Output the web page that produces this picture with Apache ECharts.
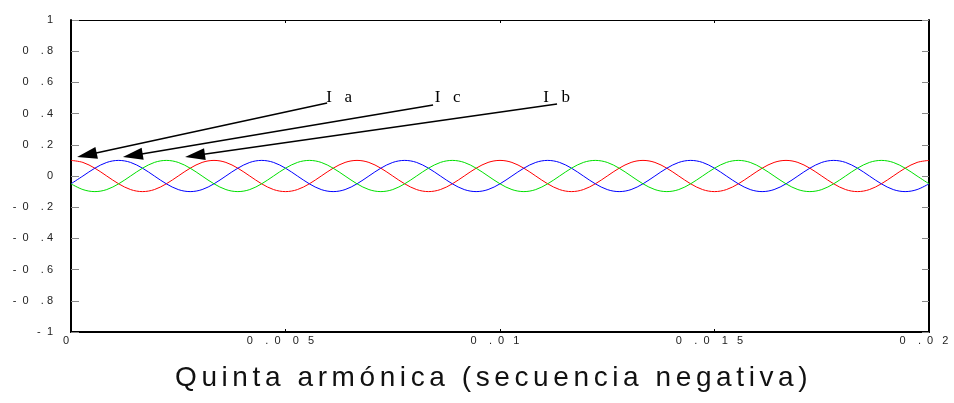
<!DOCTYPE html>
<html>
<head>
<meta charset="utf-8">
<script src="https://cdn.jsdelivr.net/npm/echarts@6/dist/echarts.min.js"></script>
<style>
html,body{margin:0;padding:0;background:#fff;}
#chart{width:954px;height:403px;}
</style>
</head>
<body>
<div id="chart"></div>
<script>
// ---- data ----
const times = [0,0.000278,0.000556,0.000833,0.001111,0.001389,0.001667,0.001944,0.002222,0.0025,0.002778,0.003056,
  0.003333,0.003611,0.003889,0.004167,0.004444,0.004722,0.005,0.005278,0.005556,0.005833,0.006111,0.006389,
  0.006667,0.006944,0.007222,0.0075,0.007778,0.008056,0.008333,0.008611,0.008889,0.009167,0.009444,0.009722,
  0.01,0.010278,0.010556,0.010833,0.011111,0.011389,0.011667,0.011944,0.012222,0.0125,0.012778,0.013056,
  0.013333,0.013611,0.013889,0.014167,0.014444,0.014722,0.015,0.015278,0.015556,0.015833,0.016111,0.016389,
  0.016667,0.016944,0.017222,0.0175,0.017778,0.018056,0.018333,0.018611,0.018889,0.019167,0.019444,0.019722,0.02];
const ia = [0.1,0.087,0.05,0,-0.05,-0.087,-0.1,-0.087,-0.05,0,0.05,0.087,
  0.1,0.087,0.05,0,-0.05,-0.087,-0.1,-0.087,-0.05,0,0.05,0.087,
  0.1,0.087,0.05,0,-0.05,-0.087,-0.1,-0.087,-0.05,0,0.05,0.087,
  0.1,0.087,0.05,0,-0.05,-0.087,-0.1,-0.087,-0.05,0,0.05,0.087,
  0.1,0.087,0.05,0,-0.05,-0.087,-0.1,-0.087,-0.05,0,0.05,0.087,
  0.1,0.087,0.05,0,-0.05,-0.087,-0.1,-0.087,-0.05,0,0.05,0.087,0.1];
const ic = [-0.05,0,0.05,0.087,0.1,0.087,0.05,0,-0.05,-0.087,-0.1,-0.087,
  -0.05,0,0.05,0.087,0.1,0.087,0.05,0,-0.05,-0.087,-0.1,-0.087,
  -0.05,0,0.05,0.087,0.1,0.087,0.05,0,-0.05,-0.087,-0.1,-0.087,
  -0.05,0,0.05,0.087,0.1,0.087,0.05,0,-0.05,-0.087,-0.1,-0.087,
  -0.05,0,0.05,0.087,0.1,0.087,0.05,0,-0.05,-0.087,-0.1,-0.087,
  -0.05,0,0.05,0.087,0.1,0.087,0.05,0,-0.05,-0.087,-0.1,-0.087,-0.05];
const ib = [-0.05,-0.087,-0.1,-0.087,-0.05,0,0.05,0.087,0.1,0.087,0.05,0,
  -0.05,-0.087,-0.1,-0.087,-0.05,0,0.05,0.087,0.1,0.087,0.05,0,
  -0.05,-0.087,-0.1,-0.087,-0.05,0,0.05,0.087,0.1,0.087,0.05,0,
  -0.05,-0.087,-0.1,-0.087,-0.05,0,0.05,0.087,0.1,0.087,0.05,0,
  -0.05,-0.087,-0.1,-0.087,-0.05,0,0.05,0.087,0.1,0.087,0.05,0,
  -0.05,-0.087,-0.1,-0.087,-0.05,0,0.05,0.087,0.1,0.087,0.05,0,-0.05];
const xTickValues = [0,0.005,0.01,0.015,0.02];
const xTickLabels = ['0','0    .  0    0   5','0    .  0   1','0    .  0    1   5','0    .  0   2'];
const yTickValues = [-1,-0.8,-0.6,-0.4,-0.2,0,0.2,0.4,0.6,0.8,1];
const yTickLabels = ['-  1','-  0    . 8','-  0    . 6','-  0    . 4','-  0    . 2','0','0    . 2','0    . 4','0    . 6','0    . 8','1'];
const annNames = ['I   a','I   c','I   b'];
const annFrom = [[0.00597,0.468],[0.00844,0.455],[0.01133,0.462]];
const annTo = [[0.00037,0.135],[0.00144,0.132],[0.00289,0.131]];
const annLabelAt = [[0.00625,0.506],[0.00878,0.506],[0.01132,0.506]];
const titleText = 'Quinta armónica (secuencia negativa)';

// letter spacing for the big title (canvas supports ctx.letterSpacing)
(function(){
  const p = CanvasRenderingContext2D.prototype;
  const orig = p.fillText;
  p.fillText = function(t, x, y, w){
    const prev = this.letterSpacing;
    if (/\b28px/.test(this.font)) this.letterSpacing = '4.6px';
    const r = (w === undefined) ? orig.call(this, t, x, y) : orig.call(this, t, x, y, w);
    this.letterSpacing = prev;
    return r;
  };
})();

function lookup(values, labels, v){
  for (let i = 0; i < values.length; i++) if (Math.abs(values[i] - v) < 1e-9) return labels[i];
  return '';
}
const zip = (xs, ys) => xs.map((x, i) => [x, ys[i]]);

const chart = echarts.init(document.getElementById('chart'), null, {renderer: 'canvas'});
const option = {
  animation: false,
  backgroundColor: '#fff',
  title: {
    text: titleText,
    left: 175, top: 364, padding: 0,
    textStyle: {fontFamily: 'Liberation Sans', fontSize: 28, fontWeight: 'normal', color: '#111'}
  },
  grid: {left: 71, right: 25, top: 20, bottom: 71, containLabel: false},
  xAxis: [{
    type: 'value', min: 0, max: 0.02, interval: 0.005, position: 'bottom',
    axisLine: {show: true, onZero: false, lineStyle: {color: '#000', width: 2}},
    axisTick: {show: true, inside: true, length: 3, lineStyle: {color: '#000'}},
    splitLine: {show: false},
    axisLabel: {show: true, margin: 3, padding: [0, 10, 0, 0], color: '#222', fontSize: 11,
      fontFamily: 'Liberation Sans', formatter: v => lookup(xTickValues, xTickLabels, v)}
  }, {
    type: 'value', min: 0, max: 0.02, interval: 0.005, position: 'top',
    axisLine: {show: true, onZero: false, lineStyle: {color: '#000', width: 1}},
    axisTick: {show: true, inside: true, length: 3, lineStyle: {color: '#000'}},
    splitLine: {show: false}, axisLabel: {show: false}
  }],
  yAxis: [{
    type: 'value', min: -1, max: 1, interval: 0.2, position: 'left',
    axisLine: {show: true, onZero: false, lineStyle: {color: '#000', width: 2}},
    axisTick: {show: true, inside: true, length: 8, lineStyle: {color: '#888'}},
    splitLine: {show: false},
    axisLabel: {show: true, margin: 18, padding: [0, 0, 6, 0], color: '#222', fontSize: 11,
      fontFamily: 'Liberation Sans', formatter: v => lookup(yTickValues, yTickLabels, v)}
  }, {
    type: 'value', min: -1, max: 1, interval: 0.2, position: 'right',
    axisLine: {show: true, onZero: false, lineStyle: {color: '#000', width: 2}},
    axisTick: {show: true, inside: true, length: 7, lineStyle: {color: '#888'}},
    splitLine: {show: false}, axisLabel: {show: false}
  }],
  series: [
    {name: 'Ia', type: 'line', data: zip(times, ia), smooth: 0.35, showSymbol: false,
      lineStyle: {color: '#ff0000', width: 1}, itemStyle: {color: '#ff0000'},
      markLine: {
        silent: true, symbol: ['none', 'triangle'], symbolSize: [12, 20],
        lineStyle: {color: '#000', width: 1.5, type: 'solid'},
        itemStyle: {color: '#000'},
        label: {show: false},
        data: annFrom.map((f, i) => [{coord: f}, {coord: annTo[i]}])
      },
      markPoint: {
        silent: true, symbol: 'circle', symbolSize: 0,
        label: {show: true, position: 'inside', color: '#000', fontSize: 17,
          fontFamily: 'Liberation Serif', formatter: p => p.name},
        data: annLabelAt.map((c, i) => ({name: annNames[i], coord: c}))
      }
    },
    {name: 'Ic', type: 'line', data: zip(times, ic), smooth: 0.35, showSymbol: false,
      lineStyle: {color: '#0000ff', width: 1}, itemStyle: {color: '#0000ff'}},
    {name: 'Ib', type: 'line', data: zip(times, ib), smooth: 0.35, showSymbol: false,
      lineStyle: {color: '#00e000', width: 1}, itemStyle: {color: '#00e000'}}
  ]
};
chart.setOption(option);
</script>
</body>
</html>
